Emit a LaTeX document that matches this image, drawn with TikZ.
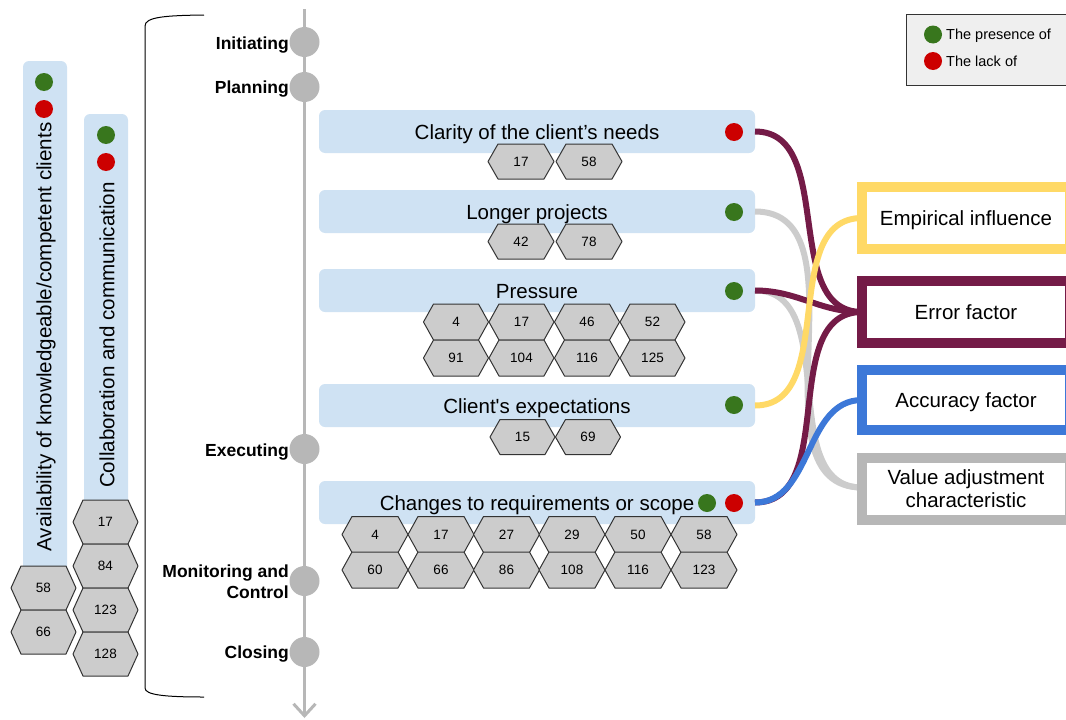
\documentclass[tikz,border=0pt]{standalone}
\usepackage{fontspec}
\setmainfont{Liberation Sans}[Ligatures=TeXOff]
\usetikzlibrary{arrows.meta}
\definecolor{lb}{HTML}{CFE2F3}
\definecolor{hexgray}{HTML}{CCCCCC}
\definecolor{hexline}{HTML}{333333}
\definecolor{pgray}{HTML}{B7B7B7}
\definecolor{dgreen}{HTML}{38761D}
\definecolor{dred}{HTML}{CC0000}
\definecolor{maroon}{HTML}{741B47}
\definecolor{yel}{HTML}{FFD966}
\definecolor{blu}{HTML}{3C78D8}
\definecolor{lgray}{HTML}{CCCCCC}
\definecolor{legfill}{HTML}{EFEFEF}
\newcommand\hexcell[6]{%
  \draw[hexfill] ({#2-#4},{#3}) -- ({#2-#4+10},{#3-#5}) -- ({#2+#4-10},{#3-#5}) -- ({#2+#4},{#3}) -- ({#2+#4-10},{#3+#5}) -- ({#2-#4+10},{#3+#5}) -- cycle;
  \node[hexlabel] (#1) at (#2,#3) {#6};}
\begin{document}
\begin{tikzpicture}[x=1pt,y=-1pt,
  bluebox/.style={fill=lb, rounded corners=6pt, inner sep=0pt, outer sep=0pt, minimum width=436pt, minimum height=43pt, text height=15pt, text depth=0pt, font=\fontsize{20.5}{24}\selectfont},
  vbox/.style={fill=lb, rounded corners=6pt, inner sep=0pt, outer sep=0pt},
  dotg/.style={circle, fill=dgreen, minimum size=18pt, inner sep=0pt},
  dotr/.style={circle, fill=dred, minimum size=18pt, inner sep=0pt},
  hexfill/.style={fill=hexgray, draw=hexline, line width=1pt, line join=round},
  hexlabel/.style={font=\fontsize{13.5}{16}\selectfont, inner sep=0pt},
  phase/.style={circle, fill=pgray, minimum size=30pt, inner sep=0pt},
  phaselabel/.style={font=\fontsize{17.5}{21}\selectfont\bfseries, inner sep=0pt, align=right},
  factor/.style={draw, line width=10pt, fill=white, minimum width=208pt, minimum height=62pt, inner sep=0pt, outer sep=0pt, font=\fontsize{20.5}{23}\selectfont, align=center},
  oneline/.style={text height=15pt, text depth=0pt},
  link/.style={line width=6pt},
  timeline/.style={draw=pgray, line width=3pt},
  vtext/.style={rotate=90, font=\fontsize{20.6}{24}\selectfont, inner sep=0pt}
]
\useasboundingbox (0,0) rectangle (1066,720);

% bracket
\draw[line width=1pt] (204,15) .. controls (165,15.5) and (145,17) .. (145,26) -- (145,688) .. controls (145,695) and (165,697) .. (204,697);

% timeline
\coordinate (tltop) at (304.5,9);
\coordinate (tlbot) at (304.5,718);
\draw[timeline, -{Straight Barb[length=12pt,width=22pt]}] (tltop) -- (tlbot);
\node[phase] (pinit) at (304.5,42) {};
\node[phase] (pplan) at (304.5,87) {};
\node[phase] (pexec) at (304.5,449) {};
\node[phase] (pmon) at (304.5,581) {};
\node[phase] (pclose) at (304.5,652) {};
\node[phaselabel, anchor=base east] (linit) at (289,49) {Initiating};
\node[phaselabel, anchor=base east] (lplan) at (289,93) {Planning};
\node[phaselabel, anchor=base east] (lexec) at (289,456) {Executing};
\node[phaselabel, anchor=east] (lmon) at (289,582) {Monitoring and\\Control};
\node[phaselabel, anchor=base east] (lclose) at (289,658) {Closing};

% left vertical boxes
\node[vbox, minimum width=44pt, minimum height=514pt] (availbox) at (45,318) {};
\node[dotg] (availg) at (44,82) {};
\node[dotr] (availr) at (44,109) {};
\node[vtext] (availtext) at (46,337) {Availability of knowledgeable/competent clients};
\hexcell{av1}{43.5}{588}{32.5}{22}{58}
\hexcell{av2}{43.5}{632}{32.5}{22}{66}

\node[vbox, minimum width=44pt, minimum height=395pt] (collabbox) at (106,311.5) {};
\node[dotg] (collabg) at (106,135) {};
\node[dotr] (collabr) at (106,162) {};
\node[vtext] (collabtext) at (107,335) {Collaboration and communication};
\hexcell{co1}{105.5}{522}{32.5}{22}{17}
\hexcell{co2}{105.5}{566}{32.5}{22}{84}
\hexcell{co3}{105.5}{610}{32.5}{22}{123}
\hexcell{co4}{105.5}{654}{32.5}{22}{128}

% main boxes
\node[bluebox] (clarity) at (537,131.5) {Clarity of the client’s needs};
\node[dotr] (clarityr) at (734,132) {};
\hexcell{cl1}{521}{161.5}{33}{17.5}{17}
\hexcell{cl2}{589}{161.5}{33}{17.5}{58}

\node[bluebox] (longer) at (537,211.5) {Longer projects};
\node[dotg] (longerg) at (734,212) {};
\hexcell{lo1}{521}{241.5}{33}{17.5}{42}
\hexcell{lo2}{589}{241.5}{33}{17.5}{78}

\node[bluebox] (pressure) at (537,290.5) {Pressure};
\node[dotg] (pressureg) at (734,291) {};
\hexcell{pr1}{456}{322}{32.5}{18}{4}
\hexcell{pr2}{521.5}{322}{32.5}{18}{17}
\hexcell{pr3}{587}{322}{32.5}{18}{46}
\hexcell{pr4}{652.5}{322}{32.5}{18}{52}
\hexcell{pr5}{456}{358}{32.5}{18}{91}
\hexcell{pr6}{521.5}{358}{32.5}{18}{104}
\hexcell{pr7}{587}{358}{32.5}{18}{116}
\hexcell{pr8}{652.5}{358}{32.5}{18}{125}

\node[bluebox] (client) at (537,405.5) {Client's expectations};
\node[dotg] (clientg) at (734,405) {};
\hexcell{ce1}{522.5}{437}{32.5}{17.5}{15}
\hexcell{ce2}{588}{437}{32.5}{17.5}{69}

\node[bluebox] (changes) at (537,502.5) {Changes to requirements or scope};
\node[dotg] (changesg) at (707,503) {};
\node[dotr] (changesr) at (734,503) {};
\hexcell{ch1}{375}{534.5}{33}{18}{4}
\hexcell{ch2}{441}{534.5}{33}{18}{17}
\hexcell{ch3}{506.5}{534.5}{33}{18}{27}
\hexcell{ch4}{572}{534.5}{33}{18}{29}
\hexcell{ch5}{638}{534.5}{33}{18}{50}
\hexcell{ch6}{704}{534.5}{33}{18}{58}
\hexcell{ch7}{375}{570}{33}{18}{60}
\hexcell{ch8}{441}{570}{33}{18}{66}
\hexcell{ch9}{506.5}{570}{33}{18}{86}
\hexcell{ch10}{572}{570}{33}{18}{108}
\hexcell{ch11}{638}{570}{33}{18}{116}
\hexcell{ch12}{704}{570}{33}{18}{123}

% right factor boxes (coordinates first for connectors)
\coordinate (empin) at (862,218);
\coordinate (errin) at (862,312);
\coordinate (accin) at (862,400);
\coordinate (valin) at (862,487.5);

% connectors
\draw[link, lgray] (longer.east) to[out=0,in=180] (valin);
\draw[link, lgray] (pressure.east) to[out=0,in=180] (valin);
\draw[link, maroon] (clarity.east) to[out=0,in=180] (errin);
\draw[link, maroon] (pressure.east) to[out=0,in=180] (errin);
\draw[link, maroon] (changes.east) to[out=0,in=180] (errin);
\draw[link, yel] (client.east) to[out=0,in=180] (empin);
\draw[link, blu] (changes.east) to[out=0,in=180] (accin);

\node[factor, oneline, draw=yel] (emp) at (966,218) {Empirical influence};
\node[factor, oneline, draw=maroon] (err) at (966,312) {Error factor};
\node[factor, oneline, draw=blu, minimum height=60pt] (acc) at (966,400) {Accuracy factor};
\node[factor, draw=pgray] (val) at (966,488.5) {Value adjustment\\characteristic};

% legend
\node[draw=hexline, fill=legfill, line width=1pt, minimum width=169pt, minimum height=71pt, inner sep=0pt] (legend) at (990.5,49.5) {};
\node[dotg] (legg) at (933,34.5) {};
\node[dotr] (legr) at (933,61) {};
\node[anchor=base west, inner sep=0pt, font=\fontsize{14.5}{17}\selectfont] (legtg) at (946,39) {The presence of};
\node[anchor=base west, inner sep=0pt, font=\fontsize{14.5}{17}\selectfont] (legtr) at (946,66) {The lack of};
\end{tikzpicture}
\end{document}
